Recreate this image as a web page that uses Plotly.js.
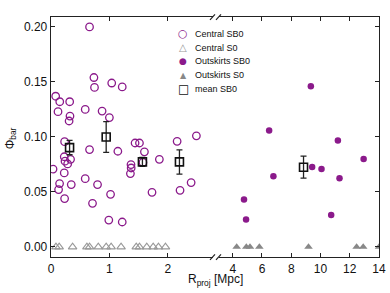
<!DOCTYPE html>
<html><head><meta charset="utf-8">
<script src="https://cdn.plot.ly/plotly-3.0.1.min.js"></script>
<style>html,body{margin:0;padding:0;background:#fff}#chart{width:390px;height:293px}</style>
</head><body><div id="chart"></div>
<script>
// Central SB0 (open purple circles), R_proj [Mpc] and Phi_bar
const centralSB0_x = [0.66,0.08,0.15,0.32,0.12,0.735,0.745,1.04,1.22,0.586,0.875,1.00,0.325,0.31,0.233,0.66,1.145,1.44,1.515,1.60,2.16,2.49,0.035,0.227,0.24,0.285,0.335,0.227,0.147,0.13,0.347,0.233,0.586,0.797,0.711,1.02,0.99,1.22,1.37,1.373,1.36,1.575,1.856,1.73,2.21,2.40];
const centralSB0_y = [0.200,0.137,0.132,0.132,0.123,0.154,0.145,0.149,0.1455,0.125,0.1235,0.1176,0.119,0.1145,0.0957,0.0885,0.087,0.0945,0.0945,0.0865,0.096,0.101,0.0708,0.082,0.078,0.0755,0.0797,0.0673,0.0576,0.0522,0.0567,0.044,0.0621,0.0567,0.0397,0.0479,0.0245,0.0227,0.0749,0.0718,0.0667,0.0768,0.0797,0.0497,0.0515,0.0585];
// Central S0 (open grey triangles)
const centralS0_x = [0.085,0.14,0.37,0.615,0.66,0.81,0.945,1.03,1.20,1.46,1.515,1.64,1.75,1.84,1.96];
const centralS0_y = [0,0,0,0,0,0,0,0,0,0,0,0,0,0,0];
// Outskirts SB0 (filled purple circles)
const outSB0_x = [9.34,6.49,11.19,12.95,9.43,10.07,6.78,11.3,4.77,4.91,10.73];
const outSB0_y = [0.146,0.1058,0.0967,0.080,0.0727,0.0709,0.0643,0.0625,0.0431,0.0249,0.0291];
// Outskirts S0 (filled grey triangles)
const outS0_x = [4.27,4.93,5.18,5.82,9.18,12.47,12.92,14.0];
const outS0_y = [0,0,0,0,0,0,0,0];
// mean SB0 (open black squares with error bars)
const meanC_x = [0.318,0.945,1.566,2.20];
const meanC_y = [0.0903,0.100,0.0773,0.0773];
const meanC_err = [0.0065,0.014,0.004,0.011];
const meanO_x = [8.84];
const meanO_y = [0.0725];
const meanO_err = [0.010];
// legend entries
const legendNames = ['Central SB0','Central S0','Outskirts SB0','Outskirts S0','mean SB0'];
const legendGlyphs = ['○','△','●','▲','□'];

const purple = '#8b1a8b';
const legendColors = [purple,'#999',purple,'#888','#111'];
const legendGlyphSize = [11,10,9,8,12];
const traces = [
  {x:centralSB0_x, y:centralSB0_y, name:legendNames[0], mode:'markers', type:'scatter', xaxis:'x', yaxis:'y',
   marker:{symbol:'circle-open', size:7.5, color:purple, line:{width:1.3, color:purple}}},
  {x:centralS0_x, y:centralS0_y, name:legendNames[1], mode:'markers', type:'scatter', xaxis:'x', yaxis:'y',
   marker:{symbol:'triangle-up-open', size:7.5, color:'#999', line:{width:1.1, color:'#999'}}},
  {x:outSB0_x, y:outSB0_y, name:legendNames[2], mode:'markers', type:'scatter', xaxis:'x2', yaxis:'y2',
   marker:{symbol:'circle', size:6.5, color:purple}},
  {x:outS0_x, y:outS0_y, name:legendNames[3], mode:'markers', type:'scatter', xaxis:'x2', yaxis:'y2',
   marker:{symbol:'triangle-up', size:7.5, color:'#888'}},
  {x:meanC_x, y:meanC_y, name:legendNames[4], mode:'markers', type:'scatter', xaxis:'x', yaxis:'y',
   error_y:{type:'data', array:meanC_err, visible:true, color:'#222', thickness:1.3, width:3},
   marker:{symbol:'square-open', size:8, color:'#111', line:{width:1.6, color:'#111'}}},
  {x:meanO_x, y:meanO_y, name:legendNames[4], mode:'markers', type:'scatter', xaxis:'x2', yaxis:'y2',
   error_y:{type:'data', array:meanO_err, visible:true, color:'#222', thickness:1.3, width:3},
   marker:{symbol:'square-open', size:8, color:'#111', line:{width:1.6, color:'#111'}}}
];

const W = 328, L = 51, B = 256.7, H = 240;
const px = v => (v - L) / W;
const py = v => (B - v) / H;
const FONT = 'Arial, Liberation Sans, sans-serif';
const axCommon = {showline:true, linecolor:'#222', linewidth:1.3, ticks:'inside', ticklen:4, tickcolor:'#222',
  showgrid:false, zeroline:false, tickfont:{family:FONT, size:12, color:'#111'}};

const annotations = [
  {text:'R<sub>proj</sub> [Mpc]', xref:'paper', yref:'paper', x:px(215), y:py(280), xanchor:'center', yanchor:'middle', showarrow:false,
   font:{family:FONT, size:12, color:'#111'}},
  {text:'Φ<sub>bar</sub>', xref:'paper', yref:'paper', x:px(11), y:py(138), xanchor:'center', yanchor:'middle', textangle:-90, showarrow:false,
   font:{family:FONT, size:12, color:'#111'}}
];
const rowY = [33.5, 47.3, 61.1, 74.9, 88.7];
legendNames.forEach((n, i) => {
  annotations.push({text:legendGlyphs[i], xref:'paper', yref:'paper', x:px(183), y:py(rowY[i]), xanchor:'center', yanchor:'middle',
    showarrow:false, font:{family:'DejaVu Sans, sans-serif', size:legendGlyphSize[i], color:legendColors[i]}});
  annotations.push({text:n, xref:'paper', yref:'paper', x:px(193), y:py(rowY[i]), xanchor:'left', yanchor:'middle',
    showarrow:false, font:{family:FONT, size:9, color:'#111'}});
});

const layout = {
  width:390, height:293,
  margin:{l:51, r:11, t:17, b:36},
  paper_bgcolor:'#fff', plot_bgcolor:'#fff',
  showlegend:false,
  xaxis:Object.assign({}, axCommon, {domain:[0, px(212.5)], range:[0, 2.766], dtick:1, tick0:0, mirror:'allticks', anchor:'y'}),
  xaxis2:Object.assign({}, axCommon, {domain:[px(218.5), 1], range:[3.027, 14], dtick:2, tick0:0, mirror:'allticks', anchor:'y2'}),
  yaxis:Object.assign({}, axCommon, {range:[-0.0091, 0.209], dtick:0.05, tick0:0, tickformat:'.2f', anchor:'x'}),
  yaxis2:Object.assign({}, axCommon, {range:[-0.0091, 0.209], dtick:0.05, tick0:0, showticklabels:false, side:'right', anchor:'x2'}),
  annotations:annotations,
  shapes:[
    {type:'line', xref:'paper', yref:'paper', x0:px(210), x1:px(215), y0:py(259.5), y1:py(254), line:{color:'#222', width:1.2}},
    {type:'line', xref:'paper', yref:'paper', x0:px(216), x1:px(221), y0:py(259.5), y1:py(254), line:{color:'#222', width:1.2}},
    {type:'line', xref:'paper', yref:'paper', x0:px(210), x1:px(215), y0:py(19.5), y1:py(14), line:{color:'#222', width:1.2}},
    {type:'line', xref:'paper', yref:'paper', x0:px(216), x1:px(221), y0:py(19.5), y1:py(14), line:{color:'#222', width:1.2}}
  ]
};
Plotly.newPlot('chart', traces, layout, {displayModeBar:false, staticPlot:true});
</script></body></html>
